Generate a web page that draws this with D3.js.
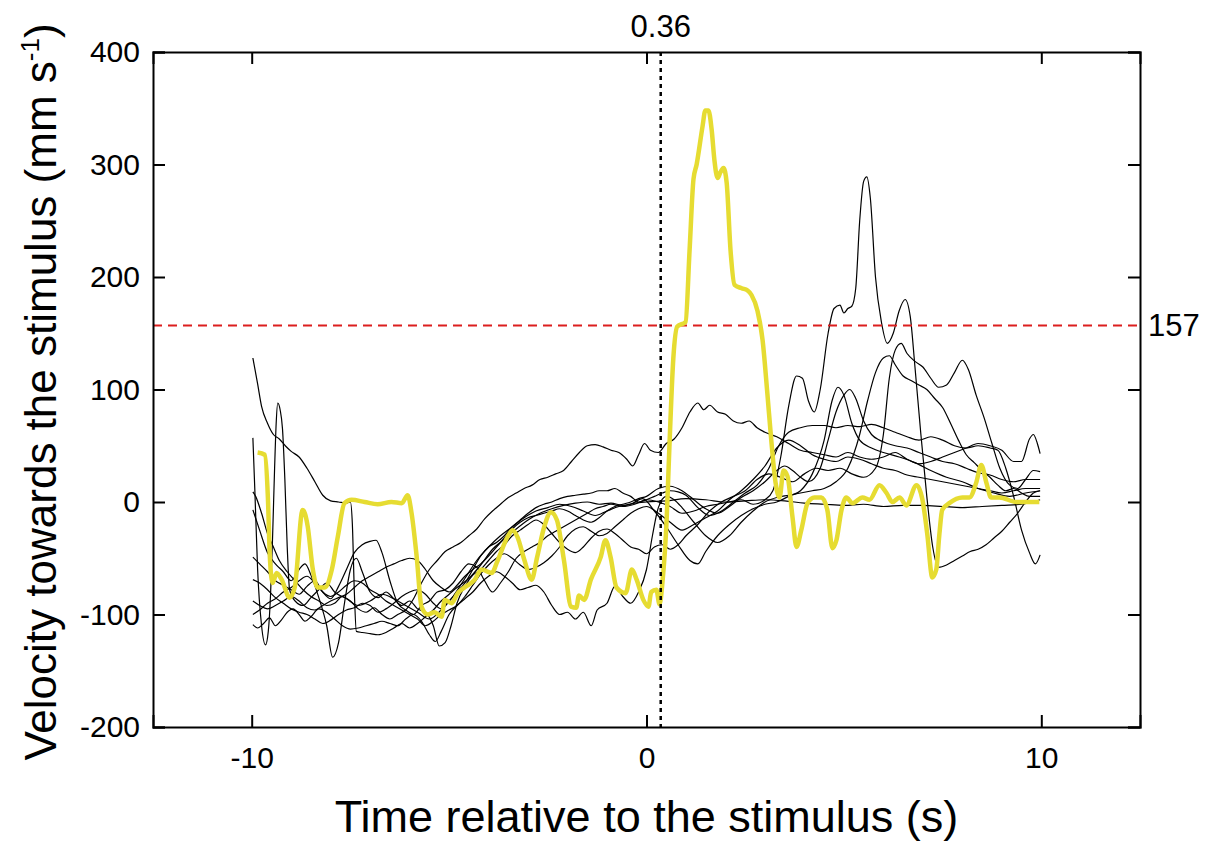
<!DOCTYPE html>
<html>
<head>
<meta charset="utf-8">
<script src="https://cdn.jsdelivr.net/npm/d3@7"></script>
<style>
  body { margin: 0; background: #fff; }
  text { font-family: "Liberation Sans", Arial, sans-serif; }
</style>
</head>
<body>
<div id="chart"></div>
<script>
// x ticks / y ticks
const xTicks = [-10, 0, 10];
const yTicks = [-200, -100, 0, 100, 200, 300, 400];
const stimulusTime = 0.36;
const threshold = 157;

// highlighted trial (yellow), [time, velocity]
const yellowTrace = [[-9.85,44],[-9.67,42],[-9.59,4],[-9.54,-49],[-9.47,-72],[-9.37,-63],[-9.24,-69],[-9.04,-85],[-8.91,-76],[-8.71,-7],[-8.58,-22],[-8.46,-58],[-8.33,-76],[-8.15,-76],[-7.97,-60],[-7.82,-31],[-7.65,-1],[-7.47,2],[-7.14,0],[-6.81,-2],[-6.46,0],[-6.2,-1],[-6.05,6],[-5.95,-10],[-5.82,-49],[-5.7,-93],[-5.54,-100],[-5.37,-98],[-5.19,-102],[-5.11,-87],[-4.94,-90],[-4.78,-81],[-4.61,-76],[-4.35,-69],[-4.18,-60],[-3.92,-63],[-3.77,-52],[-3.52,-31],[-3.39,-25],[-3.27,-31],[-3.09,-52],[-2.91,-69],[-2.77,-49],[-2.59,-22],[-2.42,-9],[-2.27,-16],[-2.09,-52],[-1.91,-93],[-1.78,-94],[-1.71,-83],[-1.58,-87],[-1.41,-69],[-1.16,-49],[-1.04,-34],[-0.91,-49],[-0.76,-76],[-0.53,-81],[-0.37,-60],[-0.25,-69],[-0.08,-87],[0.05,-93],[0.12,-80],[0.25,-78],[0.33,-91],[0.41,-69],[0.51,-16],[0.58,49],[0.68,128],[0.78,156],[0.99,160],[1.09,223],[1.19,287],[1.27,300],[1.42,334],[1.49,348],[1.57,348],[1.65,331],[1.72,304],[1.8,288],[1.87,293],[1.95,297],[2.03,284],[2.13,223],[2.23,193],[2.41,190],[2.56,188],[2.66,184],[2.81,170],[2.94,144],[3.06,97],[3.16,55],[3.27,17],[3.37,4],[3.47,28],[3.57,23],[3.7,-14],[3.8,-40],[3.92,-25],[4.08,-1],[4.25,4],[4.43,4],[4.58,-7],[4.71,-41],[4.81,-34],[4.94,-7],[5.06,4],[5.22,-1],[5.47,4],[5.65,2],[5.9,15],[6.08,8],[6.23,0],[6.41,4],[6.58,-3],[6.84,15],[6.99,2],[7.11,-28],[7.24,-67],[7.34,-60],[7.42,-28],[7.49,-7],[7.67,-1],[8.0,4],[8.18,4],[8.35,17],[8.48,33],[8.61,17],[8.73,4],[8.94,4],[9.37,0],[9.95,0]];

// other trials (black), [time, velocity]
const trace1 = [[-9.97,128],[-9.85,105],[-9.75,85],[-9.6,70],[-9.45,60],[-9.3,56],[-9.15,50],[-9.0,45],[-8.8,40],[-8.6,30],[-8.4,18],[-8.2,6],[-8.0,1],[-7.8,0],[-7.6,-1],[-7.5,0],[-7.45,-20],[-7.4,-80],[-7.35,-115],[-7.2,-116],[-7.0,-117],[-6.8,-118],[-6.6,-116],[-6.4,-112],[-6.2,-108],[-6.0,-112],[-5.8,-108],[-5.6,-102],[-5.4,-96],[-5.2,-88],[-5.0,-82],[-4.8,-76],[-4.5,-68],[-4.2,-56],[-3.9,-42],[-3.6,-33],[-3.3,-24],[-3.0,-16],[-2.7,-10],[-2.4,-6],[-2.1,-3],[-1.8,-1],[-1.5,0],[-1.2,-2],[-0.9,-1],[-0.6,-3],[-0.3,-1],[0,0],[0.5,1],[1,3],[1.5,2],[2,0],[2.5,1],[3,2],[3.5,1],[4,-1],[4.5,-2],[5,-3],[5.5,-2],[6,-4],[6.5,-3],[7,-3],[7.5,-4],[8,-5],[8.5,-4],[9,-3],[9.5,-2],[9.97,2]];
const trace2 = [[-9.97,57],[-9.92,10],[-9.85,-60],[-9.75,-110],[-9.65,-127],[-9.58,-115],[-9.52,-80],[-9.47,-30],[-9.42,30],[-9.38,70],[-9.34,88],[-9.28,82],[-9.22,65],[-9.16,20],[-9.1,-40],[-9.04,-78],[-8.9,-88],[-8.7,-92],[-8.5,-85],[-8.3,-78],[-8.1,-72],[-7.9,-80],[-7.6,-86],[-7.3,-92],[-7.0,-88],[-6.7,-82],[-6.4,-86],[-6.1,-92],[-5.8,-98],[-5.5,-104],[-5.2,-96],[-4.9,-84],[-4.6,-68],[-4.3,-52],[-4.0,-40],[-3.7,-30],[-3.4,-22],[-3.1,-14],[-2.8,-8],[-2.5,-5],[-2.2,-2],[-1.9,-4],[-1.6,-8],[-1.3,-12],[-1.0,-8],[-0.7,-4],[-0.4,-2],[-0.1,3],[0.2,-8],[0.5,-22],[0.8,-38],[1.1,-52],[1.3,-55],[1.5,-44],[1.8,-30],[2.1,-20],[2.4,-12],[2.7,-6],[3.0,-2],[3.3,0],[3.6,5],[3.9,10],[4.2,25],[4.5,55],[4.7,90],[4.85,102],[5.0,95],[5.2,70],[5.4,55],[5.7,48],[6.0,44],[6.4,40],[6.8,35],[7.2,28],[7.6,22],[8.0,18],[8.4,12],[8.8,8],[9.2,5],[9.6,8],[9.97,10]];
const trace3 = [[-9.97,9],[-9.9,5],[-9.75,-10],[-9.6,-28],[-9.45,-40],[-9.3,-52],[-9.1,-62],[-8.9,-70],[-8.7,-78],[-8.5,-84],[-8.3,-88],[-8.1,-92],[-7.9,-90],[-7.7,-84],[-7.5,-88],[-7.3,-95],[-7.1,-98],[-6.9,-94],[-6.7,-100],[-6.5,-104],[-6.3,-100],[-6.1,-96],[-5.9,-86],[-5.7,-72],[-5.5,-60],[-5.3,-52],[-5.1,-44],[-4.9,-40],[-4.7,-36],[-4.5,-30],[-4.3,-24],[-4.1,-15],[-3.9,-8],[-3.7,-2],[-3.5,4],[-3.3,8],[-3.1,12],[-2.9,15],[-2.7,20],[-2.5,22],[-2.3,25],[-2.1,28],[-1.9,36],[-1.7,44],[-1.5,50],[-1.3,51],[-1.1,49],[-0.9,46],[-0.7,44],[-0.5,38],[-0.35,32],[-0.2,42],[-0.05,52],[0.1,46],[0.3,44],[0.5,52],[0.7,56],[0.9,66],[1.1,80],[1.3,88],[1.45,82],[1.6,86],[1.8,80],[2.0,78],[2.2,72],[2.4,70],[2.6,72],[2.8,66],[3.0,62],[3.3,58],[3.6,52],[3.9,46],[4.2,44],[4.5,42],[4.8,40],[5.1,44],[5.4,40],[5.7,38],[6.0,40],[6.3,44],[6.6,38],[6.9,34],[7.2,36],[7.5,40],[7.8,44],[8.1,48],[8.4,52],[8.7,50],[9.0,46],[9.3,36],[9.5,36],[9.7,56],[9.8,60],[9.9,52],[9.97,43]];
const trace4 = [[-9.97,-7],[-9.8,-25],[-9.6,-45],[-9.4,-55],[-9.2,-62],[-9.0,-70],[-8.8,-60],[-8.65,-55],[-8.5,-65],[-8.3,-85],[-8.1,-110],[-7.95,-138],[-7.8,-125],[-7.65,-90],[-7.5,-60],[-7.35,-50],[-7.2,-62],[-7.0,-80],[-6.8,-85],[-6.6,-80],[-6.4,-86],[-6.2,-92],[-6.0,-88],[-5.8,-95],[-5.6,-98],[-5.4,-110],[-5.25,-128],[-5.1,-125],[-4.95,-110],[-4.8,-90],[-4.6,-75],[-4.4,-65],[-4.2,-60],[-4.0,-52],[-3.8,-44],[-3.6,-38],[-3.4,-30],[-3.2,-25],[-3.0,-20],[-2.8,-16],[-2.6,-20],[-2.4,-28],[-2.2,-36],[-2.0,-42],[-1.8,-45],[-1.6,-40],[-1.4,-32],[-1.2,-26],[-1.0,-24],[-0.8,-28],[-0.6,-34],[-0.4,-40],[-0.2,-42],[0,-46],[0.2,-40],[0.4,-38],[0.6,-42],[0.8,-38],[1.0,-30],[1.3,-20],[1.6,-8],[1.9,0],[2.2,5],[2.5,10],[2.8,20],[3.1,25],[3.4,22],[3.7,18],[4.0,25],[4.3,30],[4.6,28],[4.9,30],[5.2,25],[5.5,22],[5.8,30],[6.0,60],[6.15,110],[6.3,135],[6.45,141],[6.6,132],[6.8,125],[7.0,120],[7.2,110],[7.4,102],[7.6,104],[7.8,115],[8.0,126],[8.15,118],[8.35,95],[8.55,75],[8.75,52],[8.95,30],[9.2,15],[9.4,12],[9.6,20],[9.8,28],[9.97,27]];
const trace5 = [[-9.97,-49],[-9.8,-55],[-9.6,-62],[-9.4,-70],[-9.2,-74],[-9.0,-78],[-8.8,-82],[-8.6,-75],[-8.4,-70],[-8.2,-80],[-8.0,-86],[-7.8,-75],[-7.6,-60],[-7.4,-45],[-7.2,-38],[-7.0,-35],[-6.85,-34],[-6.7,-45],[-6.5,-70],[-6.3,-90],[-6.1,-96],[-5.9,-100],[-5.7,-92],[-5.5,-88],[-5.3,-80],[-5.1,-78],[-4.9,-72],[-4.7,-62],[-4.5,-55],[-4.3,-58],[-4.1,-70],[-3.9,-80],[-3.7,-72],[-3.5,-62],[-3.3,-50],[-3.1,-44],[-2.9,-40],[-2.7,-36],[-2.5,-30],[-2.3,-26],[-2.1,-22],[-1.9,-18],[-1.7,-14],[-1.5,-10],[-1.3,-6],[-1.1,-4],[-0.9,-2],[-0.6,-4],[-0.3,-2],[0,2],[0.3,0],[0.6,-4],[0.9,-10],[1.2,-8],[1.5,-4],[1.8,-2],[2.1,0],[2.4,2],[2.7,-2],[3.0,2],[3.2,10],[3.4,40],[3.6,85],[3.8,112],[3.95,110],[4.1,90],[4.25,80],[4.4,100],[4.6,150],[4.75,172],[4.9,175],[5.0,168],[5.1,172],[5.2,174],[5.3,190],[5.4,250],[5.5,285],[5.58,289],[5.67,270],[5.8,200],[5.95,160],[6.1,141],[6.25,150],[6.4,170],[6.55,180],[6.68,165],[6.8,120],[6.95,60],[7.1,5],[7.25,-40],[7.4,-58],[7.6,-56],[7.8,-52],[8.0,-48],[8.2,-44],[8.4,-42],[8.6,-38],[8.8,-32],[9.0,-26],[9.2,-18],[9.4,-10],[9.6,0],[9.8,8],[9.97,10]];
const trace6 = [[-9.97,-69],[-9.8,-72],[-9.6,-78],[-9.4,-85],[-9.2,-90],[-9.0,-95],[-8.8,-98],[-8.6,-100],[-8.4,-104],[-8.2,-108],[-8.0,-105],[-7.8,-100],[-7.6,-96],[-7.4,-94],[-7.2,-90],[-7.0,-92],[-6.8,-98],[-6.6,-95],[-6.4,-90],[-6.2,-84],[-6.0,-80],[-5.8,-78],[-5.6,-82],[-5.4,-90],[-5.2,-95],[-5.0,-88],[-4.8,-80],[-4.6,-72],[-4.4,-60],[-4.2,-48],[-4.0,-40],[-3.8,-36],[-3.6,-30],[-3.4,-22],[-3.2,-16],[-3.0,-10],[-2.8,-5],[-2.6,-2],[-2.4,0],[-2.2,3],[-2.0,5],[-1.8,6],[-1.6,7],[-1.4,8],[-1.2,10],[-1.0,10],[-0.8,12],[-0.6,8],[-0.4,5],[-0.2,0],[0,2],[0.2,5],[0.4,8],[0.6,10],[0.8,9],[1.0,6],[1.3,-5],[1.6,-12],[1.9,-8],[2.2,0],[2.5,8],[2.8,15],[3.1,30],[3.35,50],[3.6,62],[3.9,66],[4.2,68],[4.5,68],[4.8,66],[5.1,68],[5.4,67],[5.7,69],[6.0,66],[6.3,62],[6.6,58],[6.9,55],[7.2,58],[7.5,55],[7.8,50],[8.1,48],[8.4,50],[8.7,48],[8.9,46],[9.1,30],[9.3,5],[9.5,-25],[9.7,-45],[9.85,-55],[9.97,-47]];
const trace7 = [[-9.97,-109],[-9.85,-112],[-9.7,-108],[-9.55,-103],[-9.4,-110],[-9.25,-105],[-9.1,-98],[-8.95,-95],[-8.8,-100],[-8.65,-106],[-8.5,-102],[-8.3,-95],[-8.1,-98],[-7.9,-104],[-7.7,-110],[-7.5,-113],[-7.3,-112],[-7.1,-110],[-6.9,-108],[-6.7,-106],[-6.5,-108],[-6.3,-110],[-6.1,-104],[-5.9,-100],[-5.7,-106],[-5.5,-118],[-5.35,-124],[-5.2,-115],[-5.0,-100],[-4.8,-92],[-4.6,-86],[-4.4,-80],[-4.2,-72],[-4.0,-66],[-3.8,-62],[-3.6,-66],[-3.4,-72],[-3.2,-78],[-3.0,-76],[-2.8,-74],[-2.6,-80],[-2.4,-92],[-2.2,-100],[-2.0,-98],[-1.8,-104],[-1.6,-98],[-1.4,-110],[-1.25,-96],[-1.0,-90],[-0.8,-75],[-0.6,-84],[-0.4,-90],[-0.2,-80],[0,-60],[0.15,-30],[0.3,-5],[0.5,5],[0.7,2],[0.9,-5],[1.2,-18],[1.5,-30],[1.8,-36],[2.1,-30],[2.4,-18],[2.7,-8],[3.0,0],[3.3,4],[3.6,6],[3.9,8],[4.2,10],[4.5,12],[4.8,18],[5.1,30],[5.4,60],[5.6,90],[5.8,115],[6.0,128],[6.15,130],[6.3,122],[6.5,112],[6.7,108],[6.9,104],[7.1,100],[7.3,92],[7.5,84],[7.7,70],[7.9,55],[8.1,42],[8.3,35],[8.5,28],[8.7,22],[8.9,15],[9.1,10],[9.3,12],[9.5,8],[9.7,5],[9.97,5]];
const trace8 = [[-9.97,-88],[-9.8,-92],[-9.6,-95],[-9.4,-92],[-9.2,-88],[-9.0,-84],[-8.8,-88],[-8.6,-94],[-8.4,-96],[-8.2,-92],[-8.0,-88],[-7.8,-85],[-7.6,-82],[-7.4,-76],[-7.2,-70],[-7.0,-66],[-6.8,-62],[-6.6,-58],[-6.4,-55],[-6.2,-52],[-6.0,-50],[-5.8,-52],[-5.6,-60],[-5.4,-70],[-5.2,-76],[-5.0,-80],[-4.8,-74],[-4.6,-66],[-4.4,-60],[-4.2,-55],[-4.0,-48],[-3.8,-40],[-3.6,-32],[-3.4,-24],[-3.2,-18],[-3.0,-14],[-2.8,-12],[-2.6,-10],[-2.4,-8],[-2.2,-6],[-2.0,-8],[-1.8,-12],[-1.6,-16],[-1.4,-18],[-1.2,-14],[-1.0,-8],[-0.8,-4],[-0.6,-2],[-0.4,0],[-0.2,3],[0,5],[0.3,12],[0.6,14],[0.9,10],[1.2,2],[1.5,-6],[1.8,-10],[2.1,-4],[2.4,4],[2.7,10],[3.0,18],[3.3,28],[3.5,32],[3.7,28],[3.9,22],[4.1,18],[4.4,30],[4.6,55],[4.8,80],[5.0,95],[5.15,100],[5.3,92],[5.5,72],[5.7,60],[5.9,55],[6.1,52],[6.3,50],[6.6,48],[6.9,44],[7.2,40],[7.5,36],[7.8,34],[8.1,30],[8.4,26],[8.7,24],[9.0,20],[9.3,18],[9.6,20],[9.97,20]];
const trace9 = [[-9.97,-100],[-9.8,-96],[-9.6,-90],[-9.4,-86],[-9.2,-80],[-9.0,-76],[-8.8,-70],[-8.6,-66],[-8.4,-72],[-8.2,-80],[-8.0,-84],[-7.8,-80],[-7.6,-74],[-7.4,-70],[-7.2,-72],[-7.0,-78],[-6.8,-82],[-6.6,-88],[-6.4,-92],[-6.2,-96],[-6.0,-100],[-5.8,-104],[-5.6,-110],[-5.4,-106],[-5.2,-100],[-5.0,-96],[-4.8,-92],[-4.6,-84],[-4.4,-74],[-4.2,-64],[-4.0,-56],[-3.8,-50],[-3.6,-46],[-3.4,-50],[-3.2,-56],[-3.0,-60],[-2.8,-58],[-2.6,-54],[-2.4,-48],[-2.2,-40],[-2.0,-30],[-1.8,-24],[-1.6,-22],[-1.4,-26],[-1.2,-30],[-1.0,-28],[-0.8,-22],[-0.6,-16],[-0.4,-10],[-0.2,-6],[0,-4],[0.3,-10],[0.6,-18],[0.9,-25],[1.2,-20],[1.5,-14],[1.8,-8],[2.1,2],[2.4,10],[2.7,20],[3.0,32],[3.3,48],[3.6,55],[3.9,50],[4.2,42],[4.5,38],[4.8,36],[5.1,40],[5.4,38],[5.7,34],[6.0,30],[6.3,28],[6.6,24],[6.9,22],[7.2,20],[7.5,18],[7.8,16],[8.1,14],[8.4,12],[8.7,10],[9.0,8],[9.3,10],[9.6,12],[9.97,12]];

const blackTraces = [trace1, trace2, trace3, trace4, trace5, trace6, trace7, trace8, trace9];

const W = 1206, H = 843;
const margin = {top: 52, right: 66, bottom: 116, left: 153};

const svg = d3.select("#chart").append("svg")
    .attr("width", W)
    .attr("height", H);

const x = d3.scaleLinear().domain([-12.5, 12.5]).range([margin.left, W - margin.right]);
const y = d3.scaleLinear().domain([-200, 400]).range([H - margin.bottom, margin.top]);

const line = d3.line()
    .x(d => x(d[0]))
    .y(d => y(d[1]))
    .curve(d3.curveMonotoneX);

// black trials
svg.append("g")
  .selectAll("path")
  .data(blackTraces)
  .enter().append("path")
    .attr("d", line)
    .attr("fill", "none")
    .attr("stroke", "#000")
    .attr("stroke-width", 1.2);

// threshold line
svg.append("line")
    .attr("x1", x(-12.5)).attr("x2", x(12.5))
    .attr("y1", y(threshold)).attr("y2", y(threshold))
    .attr("stroke", "#dc1e1e")
    .attr("stroke-width", 2)
    .attr("stroke-dasharray", "9,6");

// yellow trial
svg.append("path")
    .datum(yellowTrace)
    .attr("d", line)
    .attr("fill", "none")
    .attr("stroke", "#e6dc32")
    .attr("stroke-width", 4.5)
    .attr("stroke-linejoin", "round");

// stimulus line
svg.append("line")
    .attr("x1", x(stimulusTime)).attr("x2", x(stimulusTime))
    .attr("y1", y(400)).attr("y2", y(-200))
    .attr("stroke", "#000")
    .attr("stroke-width", 2.5)
    .attr("stroke-dasharray", "4,4");

// axes, ticks pointing inward on all sides
const tickLen = 12;
const fmt = d => String(d);
svg.append("g")
    .attr("transform", "translate(0," + y(-200) + ")")
    .call(d3.axisBottom(x).tickValues(xTicks).tickSize(-tickLen).tickPadding(20).tickFormat(fmt));
svg.append("g")
    .attr("transform", "translate(0," + y(400) + ")")
    .call(d3.axisTop(x).tickValues(xTicks).tickSize(-tickLen).tickFormat(""));
svg.append("g")
    .attr("transform", "translate(" + x(-12.5) + ",0)")
    .call(d3.axisLeft(y).tickValues(yTicks).tickSize(-tickLen).tickPadding(13).tickFormat(fmt));
svg.append("g")
    .attr("transform", "translate(" + x(12.5) + ",0)")
    .call(d3.axisRight(y).tickValues(yTicks).tickSize(-tickLen).tickFormat(""));

svg.selectAll(".domain").attr("stroke", "#000").attr("stroke-width", 2);
svg.selectAll(".tick line").attr("stroke", "#000").attr("stroke-width", 2);
svg.selectAll(".tick text")
    .attr("fill", "#000")
    .style("font-size", "30px")
    .style("font-family", "'Liberation Sans', Arial, sans-serif");

// annotations
svg.append("text")
    .attr("x", x(stimulusTime))
    .attr("y", 37)
    .attr("text-anchor", "middle")
    .style("font-size", "31px")
    .text("0.36");
svg.append("text")
    .attr("x", x(12.5) + 8)
    .attr("y", y(threshold) + 11)
    .style("font-size", "31px")
    .text("157");

// axis titles
svg.append("text")
    .attr("x", (x(-12.5) + x(12.5)) / 2)
    .attr("y", 832)
    .attr("text-anchor", "middle")
    .style("font-size", "45px")
    .text("Time relative to the stimulus (s)");

const yTitle = svg.append("text")
    .attr("transform", "translate(56,392) rotate(-90)")
    .attr("text-anchor", "middle")
    .style("font-size", "44px");
yTitle.append("tspan").text("Velocity towards the stimulus (mm s");
yTitle.append("tspan").attr("dy", -17).style("font-size", "26px").text("-1");
yTitle.append("tspan").attr("dy", 17).text(")");
</script>
</body>
</html>
